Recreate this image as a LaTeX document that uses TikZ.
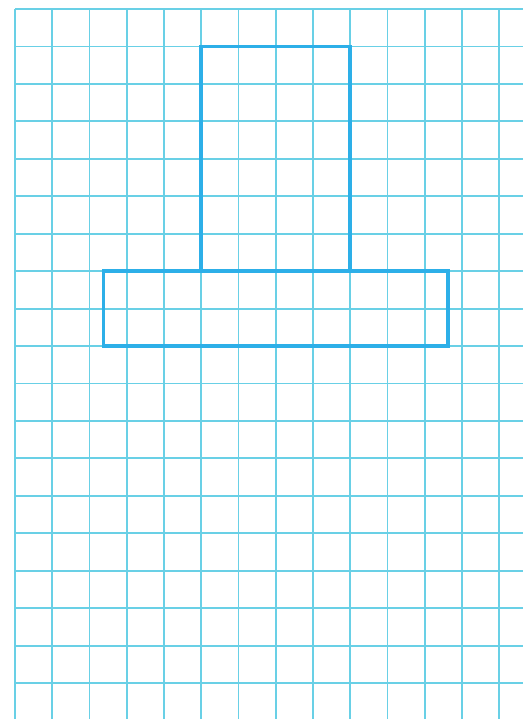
\documentclass[tikz,border=0pt]{standalone}
\usepackage{tikz}

\definecolor{gridcyan}{RGB}{105,208,230}
\definecolor{shapeblue}{RGB}{45,175,232}

\begin{document}
\begin{tikzpicture}[x = 0.996cm, y = -1.0013cm,
  gridline/.style = {draw = gridcyan, line width = 1.4pt},
  outline/.style = {draw = shapeblue, line width = 2.7pt, line join = miter}]
\useasboundingbox (-0.4027,-0.2403) rectangle (13.638,18.959);
\fill[white] (-0.4027,-0.2403) rectangle (13.638,18.959);

\foreach \i in {0,...,13}
  \draw[gridline] (\i,0) -- (\i,18.959);
\foreach \j in {0,...,18}
  \draw[gridline] (0,\j) -- (13.638,\j);

\draw[outline] (5,7) -- (5,1) -- (9,1) -- (9,7);
\draw[outline] (2.37,7) rectangle (11.63,9);
\end{tikzpicture}
\end{document}
